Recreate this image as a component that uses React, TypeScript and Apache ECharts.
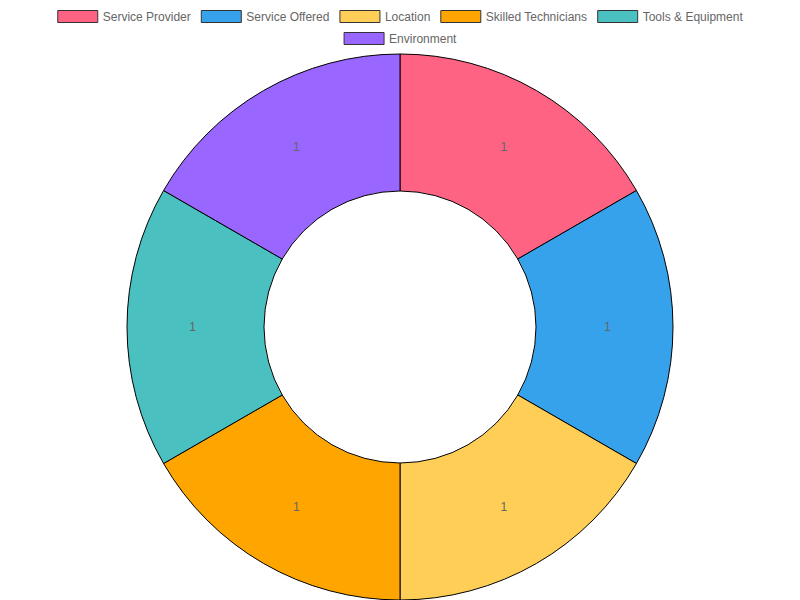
import React, { useEffect, useRef } from "react";
import * as echarts from "echarts";

const categories = ["Service Provider", "Service Offered", "Location", "Skilled Technicians", "Tools & Equipment", "Environment"];
const values = [1, 1, 1, 1, 1, 1];
const colors = ["#FF6384", "#36A2EB", "#FFCE56", "#FFA500", "#4BC0C0", "#9966FF"];
const legendRow1 = categories.slice(0, 5);
const legendRow2 = categories.slice(5);

export default function App() {
  const ref = useRef<HTMLDivElement>(null);
  useEffect(() => {
    const chart = echarts.init(ref.current!, null, { renderer: "svg" });
    const legendBase = {
      left: "center",
      itemWidth: 40,
      itemHeight: 12,
      itemGap: 10,
      icon: "rect",
      padding: 0,
      itemStyle: { borderWidth: 1, borderColor: "#333" },
      textStyle: { color: "#666", fontSize: 12, fontFamily: "Liberation Sans, Arial, sans-serif", lineHeight: 12 },
    };
    chart.setOption({
      animation: false,
      legend: [
        { ...legendBase, top: 10, data: legendRow1 },
        { ...legendBase, top: 32, data: legendRow2 },
      ],
      series: [
        {
          type: "pie",
          center: [400, 327],
          radius: [136, 273],
          startAngle: 90,
          clockwise: true,
          color: colors,
          itemStyle: { borderColor: "#000", borderWidth: 1 },
          label: {
            show: true,
            position: "inside",
            formatter: "{c}",
            color: "#666",
            fontSize: 12,
            fontFamily: "Liberation Sans, Arial, sans-serif",
          },
          labelLine: { show: false },
          emphasis: { disabled: true },
          data: categories.map((name, i) => ({ name, value: values[i] })),
        },
      ],
    });
    return () => chart.dispose();
  }, []);
  return <div ref={ref} style={{ width: 800, height: 600, position: "absolute", left: 0, top: 0 }} />;
}
